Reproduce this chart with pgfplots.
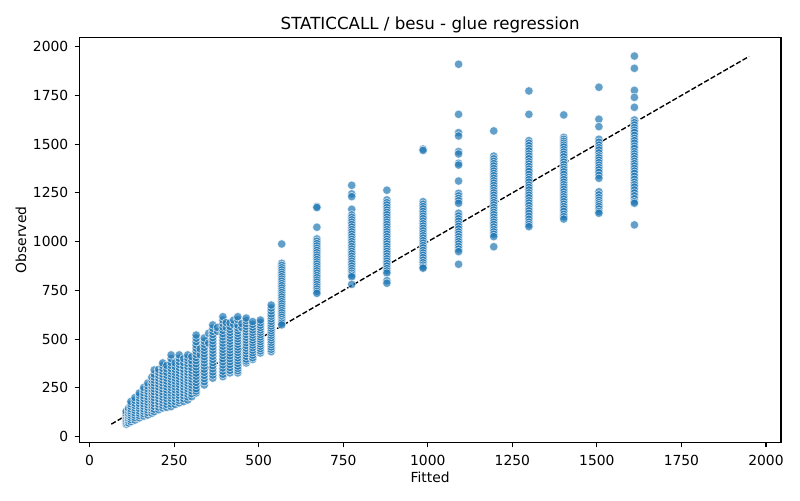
\documentclass[border=0pt]{standalone}
\usepackage{fontspec}
\setmainfont{DejaVu Sans}
\usepackage{pgfplots}
\pgfplotsset{compat=1.18}
\definecolor{c0}{HTML}{1F77B4}
\begin{document}
\begin{tikzpicture}
\begin{axis}[
  name=ax, at={(0,0)}, anchor=south west,
  scale only axis, width=526.25pt, height=304pt,
  xmin=-30.5, xmax=2044.5, ymin=-31, ymax=2048,
  xtick={0,250,...,2000}, ytick={0,250,...,2000},
  scaled ticks=false,
  /pgf/number format/1000 sep={},
  /pgf/number format/assume math mode=true,
  tick align=outside, major tick length=3.6pt,
  xtick pos=bottom, ytick pos=left,
  tick style={line width=0.83pt, black},
  axis line style={line width=0.83pt},
  ticklabel style={font=\fontsize{10.4}{12.5}\selectfont},
  xticklabel style={anchor=base, inner sep=0pt, yshift=-13.75pt},
  yticklabel style={anchor=east, inner sep=0pt, xshift=-4.5pt},
  every axis title shift=0pt,
  title={STATICCALL / besu - glue regression},
  title style={at={(axis description cs:0.5,1)}, anchor=base, yshift=6.2pt, inner sep=0pt, font=\fontsize{12.5}{15}\selectfont},
  xlabel={Fitted},
  xlabel style={at={(axis description cs:0.5,0)}, anchor=base, yshift=-29.9pt, inner sep=0pt, font=\fontsize{10.4}{12.5}\selectfont},
  ylabel={Observed},
  ylabel style={at={(axis description cs:-0.0759,0.5)}, anchor=base, rotate=0, inner sep=0pt, font=\fontsize{10.4}{12.5}\selectfont},
]
\addplot[only marks, mark=*, mark size=3.2pt, mark options={fill=c0, draw=white, line width=0.5pt, opacity=0.7}] coordinates {
(108,64)(108,72)(108,80)(108,88)(108,96)(108,104)(108,112)(108,120)(108,130)
(115,70)(115,82)(115,94)(115,106)(115,118)(115,132)(115,145)
(122,77)(122,88)(122,99)(122,110)(122,121)(122,132)(122,143)(122,155)(122,168)(122,180)
(134,85)(134,98)(134,110)(134,122)(134,135)(134,148)(134,160)(134,172)(134,186)(134,200)
(147,96)(147,108)(147,120)(147,132)(147,145)(147,158)(147,170)(147,184)(147,198)(147,212)(147,224)
(160,105)(160,118)(160,130)(160,142)(160,155)(160,168)(160,182)(160,196)(160,210)(160,225)(160,240)(160,252)
(172,111)(172,124)(172,137)(172,150)(172,163)(172,176)(172,190)(172,204)(172,218)(172,232)(172,246)(172,260)(172,275)
(184,120)(184,133)(184,146)(184,160)(184,174)(184,188)(184,202)(184,216)(184,230)(184,244)(184,258)(184,272)(184,290)(184,305)
(191,128)(191,141)(191,155)(191,170)(191,185)(191,200)(191,215)(191,230)(191,245)(191,260)(191,275)(191,290)(191,305)(191,320)(191,342)
(204,138)(204,152)(204,166)(204,180)(204,195)(204,210)(204,225)(204,240)(204,255)(204,270)(204,285)(204,300)(204,315)(204,330)(204,345)
(216,147)(216,160)(216,174)(216,188)(216,202)(216,216)(216,230)(216,245)(216,260)(216,275)(216,290)(216,305)(216,320)(216,335)(216,350)(216,365)(216,378)
(228,150)(228,165)(228,180)(228,195)(228,210)(228,225)(228,240)(228,255)(228,270)(228,285)(228,300)(228,315)(228,330)(228,348)(228,365)
(241,154)(241,168)(241,182)(241,196)(241,210)(241,224)(241,238)(241,252)(241,266)(241,280)(241,294)(241,308)(241,322)(241,336)(241,350)(241,365)(241,380)(241,400)(241,419)
(253,165)(253,180)(253,195)(253,210)(253,225)(253,240)(253,255)(253,270)(253,285)(253,300)(253,315)(253,330)(253,345)(253,360)(253,378)
(265,173)(265,186)(265,198)(265,212)(265,226)(265,240)(265,254)(265,268)(265,282)(265,296)(265,310)(265,325)(265,340)(265,355)(265,370)(265,385)(265,402)(265,419)
(278,180)(278,195)(278,210)(278,225)(278,240)(278,255)(278,270)(278,285)(278,300)(278,315)(278,330)(278,345)(278,362)(278,380)(278,400)
(290,188)(290,204)(290,218)(290,232)(290,246)(290,260)(290,274)(290,288)(290,302)(290,316)(290,330)(290,345)(290,360)(290,375)(290,390)(290,404)(290,419)
(302,205)(302,220)(302,235)(302,250)(302,265)(302,280)(302,295)(302,310)(302,325)(302,340)(302,355)(302,372)(302,390)(302,410)
(315,224)(315,234)(315,246)(315,262)(315,278)(315,294)(315,310)(315,326)(315,342)(315,358)(315,374)(315,390)(315,406)(315,422)(315,438)(315,454)(315,470)(315,487)(315,505)(315,521)
(327,420)(327,450)
(339,265)(339,282)(339,298)(339,314)(339,330)(339,346)(339,362)(339,378)(339,394)(339,410)(339,426)(339,442)(339,458)(339,474)(339,490)(339,506)
(352,480)(352,530)
(364,300)(364,316)(364,332)(364,348)(364,364)(364,380)(364,396)(364,412)(364,428)(364,444)(364,460)(364,476)(364,492)(364,508)(364,524)(364,540)(364,556)(364,573)
(378,540)(378,560)
(394,308)(394,320)(394,336)(394,352)(394,368)(394,384)(394,400)(394,416)(394,432)(394,448)(394,464)(394,480)(394,496)(394,512)(394,528)(394,545)(394,562)(394,580)(394,598)(394,615)
(404,560)(404,585)
(415,327)(415,340)(415,355)(415,370)(415,385)(415,400)(415,415)(415,430)(415,445)(415,460)(415,475)(415,490)(415,505)(415,520)(415,535)(415,550)(415,565)(415,583)
(426,575)(426,598)
(438,327)(438,338)(438,350)(438,362)(438,376)(438,390)(438,404)(438,418)(438,432)(438,446)(438,460)(438,474)(438,488)(438,502)(438,516)(438,530)(438,544)(438,558)(438,572)(438,600)(438,615)
(450,560)(450,580)
(463,378)(463,388)(463,398)(463,412)(463,426)(463,440)(463,454)(463,468)(463,482)(463,496)(463,510)(463,524)(463,538)(463,552)(463,566)(463,580)(463,595)(463,608)
(482,396)(482,405)(482,418)(482,431)(482,444)(482,457)(482,470)(482,483)(482,496)(482,509)(482,522)(482,535)(482,548)(482,562)(482,576)(482,590)
(505,429)(505,440)(505,452)(505,464)(505,476)(505,488)(505,500)(505,512)(505,524)(505,536)(505,548)(505,560)(505,572)(505,585)(505,598)
(537,436)(537,448)(537,460)(537,472)(537,484)(537,496)(537,508)(537,520)(537,532)(537,544)(537,556)(537,568)(537,580)(537,592)(537,605)(537,618)(537,630)(537,645)(537,660)(537,675)
(568,988)(568,889)(568,878)(568,866)(568,855)(568,843)(568,832)(568,820)(568,808)(568,797)(568,785)(568,774)(568,762)(568,750)(568,739)(568,727)(568,716)(568,704)(568,692)(568,681)(568,669)(568,658)(568,646)(568,635)(568,623)(568,612)(568,600)(568,590)(568,582)(568,573)
(672,1180)(672,1175)(672,1074)(672,1014)(672,1002)(672,990)(672,978)(672,966)(672,955)(672,943)(672,931)(672,920)(672,908)(672,896)(672,885)(672,873)(672,861)(672,850)(672,838)(672,826)(672,815)(672,803)(672,792)(672,780)(672,768)(672,757)(672,745)(672,735)
(775,1289)(775,1245)(775,1231)(775,1166)(775,1137)(775,1125)(775,1112)(775,1100)(775,1088)(775,1075)(775,1062)(775,1050)(775,1038)(775,1025)(775,1012)(775,1000)(775,988)(775,975)(775,962)(775,950)(775,938)(775,925)(775,912)(775,900)(775,888)(775,875)(775,862)(775,850)(775,838)(775,828)(775,820)(775,781)
(879,1264)(879,1214)(879,1200)(879,1188)(879,1175)(879,1162)(879,1150)(879,1138)(879,1125)(879,1112)(879,1100)(879,1088)(879,1075)(879,1062)(879,1050)(879,1038)(879,1025)(879,1012)(879,1000)(879,988)(879,975)(879,962)(879,950)(879,938)(879,925)(879,912)(879,900)(879,888)(879,875)(879,862)(879,850)(879,839)(879,800)(879,787)
(986,1475)(986,1468)(986,1205)(986,1192)(986,1180)(986,1168)(986,1155)(986,1142)(986,1130)(986,1118)(986,1105)(986,1092)(986,1080)(986,1068)(986,1055)(986,1042)(986,1030)(986,1018)(986,1005)(986,992)(986,980)(986,968)(986,955)(986,942)(986,930)(986,918)(986,905)(986,892)(986,880)(986,870)(986,864)
(1091,1910)(1091,1653)(1091,1559)(1091,1542)(1091,1462)(1091,1450)(1091,1402)(1091,1393)(1091,1311)(1091,1248)(1091,1235)(1091,1222)(1091,1210)(1091,1197)(1091,1146)(1091,1132)(1091,1118)(1091,1105)(1091,1090)(1091,1078)(1091,1065)(1091,1050)(1091,1038)(1091,1025)(1091,1012)(1091,1000)(1091,988)(1091,975)(1091,962)(1091,949)(1091,884)
(1195,1568)(1195,1439)(1195,1425)(1195,1412)(1195,1400)(1195,1388)(1195,1375)(1195,1362)(1195,1350)(1195,1338)(1195,1325)(1195,1312)(1195,1300)(1195,1288)(1195,1275)(1195,1262)(1195,1250)(1195,1238)(1195,1225)(1195,1212)(1195,1200)(1195,1188)(1195,1175)(1195,1162)(1195,1150)(1195,1138)(1195,1125)(1195,1112)(1195,1100)(1195,1088)(1195,1075)(1195,1062)(1195,1050)(1195,1038)(1195,1026)(1195,974)
(1299,1773)(1299,1653)(1299,1518)(1299,1505)(1299,1492)(1299,1478)(1299,1465)(1299,1450)(1299,1438)(1299,1425)(1299,1410)(1299,1398)(1299,1385)(1299,1372)(1299,1360)(1299,1345)(1299,1330)(1299,1318)(1299,1305)(1299,1290)(1299,1278)(1299,1265)(1299,1250)(1299,1238)(1299,1225)(1299,1210)(1299,1198)(1299,1185)(1299,1170)(1299,1158)(1299,1145)(1299,1130)(1299,1115)(1299,1100)(1299,1088)(1299,1077)
(1402,1650)(1402,1535)(1402,1525)(1402,1515)(1402,1505)(1402,1495)(1402,1485)(1402,1472)(1402,1460)(1402,1448)(1402,1435)(1402,1420)(1402,1408)(1402,1395)(1402,1382)(1402,1370)(1402,1358)(1402,1345)(1402,1330)(1402,1318)(1402,1305)(1402,1292)(1402,1280)(1402,1268)(1402,1255)(1402,1242)(1402,1230)(1402,1218)(1402,1205)(1402,1192)(1402,1180)(1402,1168)(1402,1155)(1402,1140)(1402,1128)(1402,1116)
(1506,1792)(1506,1628)(1506,1590)(1506,1525)(1506,1510)(1506,1495)(1506,1482)(1506,1470)(1506,1455)(1506,1440)(1506,1430)(1506,1418)(1506,1405)(1506,1392)(1506,1380)(1506,1368)(1506,1355)(1506,1340)(1506,1325)(1506,1256)(1506,1240)(1506,1225)(1506,1212)(1506,1200)(1506,1190)(1506,1180)(1506,1168)(1506,1155)(1506,1146)
(1611,1952)(1611,1889)(1611,1776)(1611,1740)(1611,1689)(1611,1624)(1611,1610)(1611,1598)(1611,1585)(1611,1572)(1611,1560)(1611,1545)(1611,1530)(1611,1518)(1611,1505)(1611,1490)(1611,1478)(1611,1462)(1611,1450)(1611,1438)(1611,1425)(1611,1412)(1611,1400)(1611,1388)(1611,1375)(1611,1362)(1611,1350)(1611,1335)(1611,1320)(1611,1305)(1611,1292)(1611,1280)(1611,1265)(1611,1250)(1611,1235)(1611,1220)(1611,1205)(1611,1197)(1611,1086)
};
\addplot[black, line width=1.04pt, dash pattern=on 3.85pt off 1.67pt] coordinates {(64,64)(1950,1950)};
\end{axis}
\pgfresetboundingbox
\path (-59.5pt,-43pt) rectangle (540.5pt,332pt);
\end{tikzpicture}
\end{document}
